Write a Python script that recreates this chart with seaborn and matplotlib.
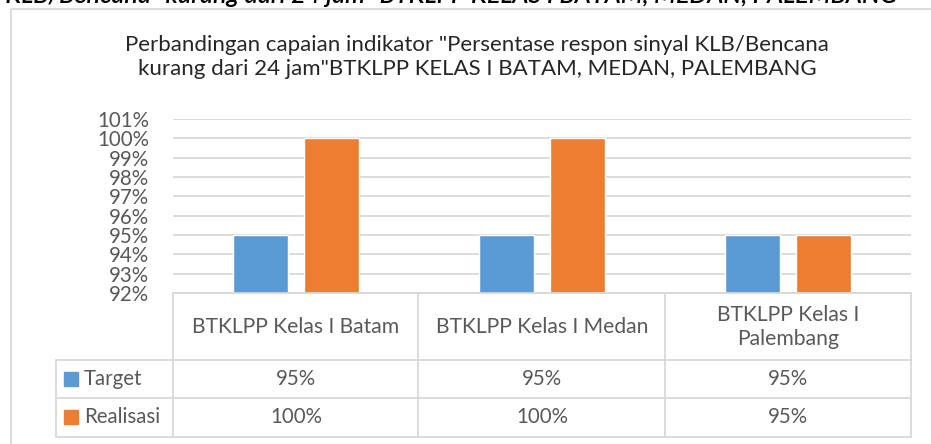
import numpy as np
import pandas as pd
import seaborn as sns
from matplotlib import pyplot as plt
from matplotlib import transforms
from matplotlib.patches import Rectangle

units = ['BTKLPP Kelas I Batam', 'BTKLPP Kelas I Medan', 'BTKLPP Kelas I\nPalembang']
series = ['Target', 'Realisasi']
target = [95, 95, 95]
realisasi = [100, 100, 95]
yticks = [92, 93, 94, 95, 96, 97, 98, 99, 100, 101]

title = ('Perbandingan capaian indikator "Persentase respon sinyal KLB/Bencana\n'
         'kurang dari 24 jam"BTKLPP KELAS I BATAM, MEDAN, PALEMBANG')
cut_text = 'sinyal KLB/Bencana" kurang dari 24 jam" BTKLPP KELAS I BATAM, MEDAN, PALEMBANG'

colors = ['#5B9BD5', '#ED7D31']
grey = '#595959'
line = '#D9D9D9'

sns.set_theme(style='white')
plt.rcParams['font.family'] = ['Lato', 'DejaVu Sans']

df = pd.DataFrame({
    'unit': units * 2,
    'series': [series[0]] * 3 + [series[1]] * 3,
    'value': target + realisasi,
})

W, H = 931, 444
fig = plt.figure(figsize=(W / 100, H / 100), dpi=100, facecolor='white')

# plot area in pixels: x 173..911, y 119..293
ax = fig.add_axes([173 / W, 1 - 293 / H, (911 - 173) / W, (293 - 119) / H])
sns.barplot(data=df, x='unit', y='value', hue='series', palette=colors,
            saturation=1, width=0.571, gap=0.214, legend=False, ax=ax, zorder=3)
ax.set_ylim(92, 101)
ax.set_xlim(-0.5, 2.5)
ax.set_yticks(yticks)
ax.set_yticklabels(['{}%'.format(v) for v in yticks], fontsize=14.8, color=grey)
ax.tick_params(axis='y', length=0, pad=17)
ax.set_xticks([])
ax.set_xlabel('')
ax.set_ylabel('')
ax.yaxis.grid(True, color=line, linewidth=1.3, zorder=0)
ax.set_axisbelow(True)
for side in ['top', 'right', 'left']:
    ax.spines[side].set_visible(False)
ax.spines['bottom'].set_color(line)
ax.spines['bottom'].set_linewidth(1.3)

# overlay in pixel coordinates (y downwards)
ov = fig.add_axes([0, 0, 1, 1], facecolor='none')
ov.set_xlim(0, W)
ov.set_ylim(H, 0)
ov.axis('off')

ov.add_patch(Rectangle((11, 9), W, H, fill=False, edgecolor=line, linewidth=1.3))
# heading of the page above the chart, cut by the crop
ov.text(897, 3, cut_text, ha='right', va='baseline', fontsize=18.1,
        style='italic', fontweight='semibold', color='black', clip_on=True)
ov.text(477, 57, title, ha='center', va='center', fontsize=16,
        color='#262626', linespacing=1.2)

# data table
for y0, x0 in [(293, 173), (360, 56), (398, 56), (437, 56)]:
    ov.plot([x0, 911], [y0, y0], color=line, linewidth=1.3)
for x0 in [173, 418, 665, 911]:
    ov.plot([x0, x0], [293, 437], color=line, linewidth=1.3)
ov.plot([56, 56], [360, 437], color=line, linewidth=1.3)

tr = transforms.blended_transform_factory(ax.transData, ov.transData)
for i, name in enumerate(units):
    ov.text(i, 327, name, transform=tr, ha='center', va='center',
            fontsize=15.2, color=grey, linespacing=1.3)
    ov.text(i, 379, '{}%'.format(target[i]), transform=tr, ha='center',
            va='center', fontsize=14.8, color=grey)
    ov.text(i, 417, '{}%'.format(realisasi[i]), transform=tr, ha='center',
            va='center', fontsize=14.8, color=grey)

for name, col, yc in zip(series, colors, [379, 417]):
    ov.add_patch(Rectangle((64, yc - 7), 14, 14, color=col))
    ov.text(84, yc, name, ha='left', va='center', fontsize=14.8, color=grey)

fig.savefig('out.png', dpi=100, facecolor='white')
